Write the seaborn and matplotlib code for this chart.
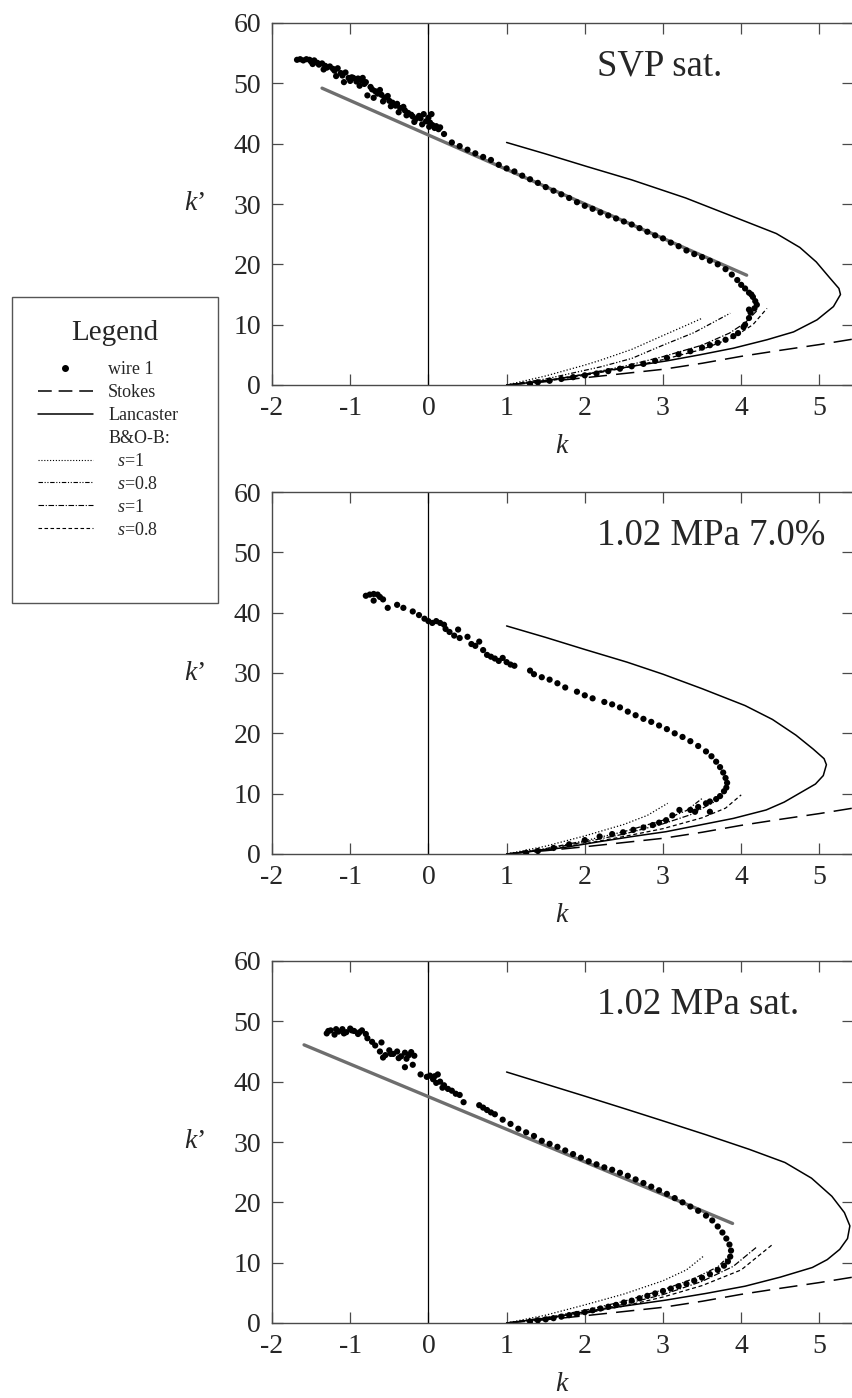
import numpy as np
import pandas as pd
import matplotlib
matplotlib.use("Agg")
import matplotlib.pyplot as plt
from matplotlib.lines import Line2D
from matplotlib.patches import Rectangle
import seaborn as sns

sns.set_style("ticks")
plt.rcParams['font.family'] = ['Liberation Serif', 'DejaVu Serif']
plt.rcParams['mathtext.fontset'] = 'custom'
plt.rcParams['mathtext.rm'] = 'Liberation Serif'
plt.rcParams['mathtext.it'] = 'Liberation Serif:italic'
plt.rcParams['axes.unicode_minus'] = False

# ---------------- data ----------------
panel_titles = ["SVP sat.", "1.02 MPa 7.0%", "1.02 MPa sat."]
x_ticks = [-2, -1, 0, 1, 2, 3, 4, 5]
y_ticks = [0, 10, 20, 30, 40, 50, 60]

# wire 1 measurements
wire_top_x = [-1.68,-1.64,-1.6,-1.56,-1.52,-1.5,-1.46,-1.42,-1.4,-1.36,-1.32,-1.3,-1.26,-1.22,-1.2,-1.16,-1.12,-1.1,-1.06,-1.02,-1.0,
              -0.96,-0.92,-0.9,-0.86,-0.82,-0.8,-0.78,-0.74,-0.72,-0.68,-0.65,-0.62,-0.6,-0.56,-0.52,-0.5,-0.46,-0.42,-0.4,-0.36,-0.32,
              -0.3,-0.26,-0.22,-0.2,-0.16,-0.12,-0.1,-0.06,-0.03,0.0,0.02,0.05,0.08,0.1,0.13,0.15,0.2,
              -1.48,-1.34,-1.18,-1.08,-0.98,-0.88,-0.84,-0.7,-0.58,-0.48,-0.38,-0.28,-0.18,-0.08,0.01,0.04,
              0.3,0.4,0.5,0.6,0.7,0.8,0.9,1.0,1.1,1.2,1.3,1.4,1.5,1.6,1.7,1.8,1.9,2.0,2.1,2.2,2.3,2.4,2.5,2.6,2.7,2.8,2.9,
              3.0,3.1,3.2,3.3,3.4,3.5,3.6,3.7,3.8,3.88,3.95,4.0,4.05,4.1,4.13,4.15,4.18,4.2,4.17,4.12,4.1,4.1,4.05,4.03,
              3.96,3.9,3.8,3.7,3.6,3.5,3.35,3.2,3.05,2.9,2.75,2.6,2.45,2.3,2.15,2.0,1.85,1.7,1.55,1.4,1.3]
wire_top_y = [53.9,54.0,53.8,54.0,53.9,53.6,53.8,53.4,53.1,53.3,52.9,52.6,52.8,52.4,52.1,52.5,51.7,51.3,51.8,50.9,50.4,
              50.9,50.3,50.8,50.5,49.9,50.2,48.0,49.4,49.0,48.7,48.3,48.9,48.1,47.6,47.9,47.1,46.8,46.3,46.6,45.9,46.1,
              45.5,45.1,44.8,44.5,44.1,44.6,44.2,44.9,43.7,44.3,43.5,43.1,42.6,42.9,42.4,42.7,41.6,
              53.2,52.3,51.2,50.2,51.0,49.6,50.9,47.6,47.0,46.2,45.2,44.7,43.6,43.2,42.8,44.9,
              40.2,39.6,39.0,38.4,37.8,37.3,36.5,35.9,35.4,34.7,34.1,33.5,32.8,32.2,31.6,31.0,30.3,29.7,29.2,28.6,28.1,27.6,27.1,26.6,26.0,25.4,24.8,
              24.3,23.6,23.0,22.3,21.7,21.2,20.6,20.0,19.2,18.3,17.4,16.6,16.0,15.3,15.0,14.6,13.9,13.3,12.7,12.0,12.5,11.1,10.0,9.6,
              8.6,8.1,7.5,7.0,6.6,6.2,5.6,5.1,4.5,4.0,3.5,3.1,2.7,2.3,1.9,1.6,1.3,1.0,0.7,0.45,0.2]

wire_mid_x = [-0.8,-0.75,-0.7,-0.65,-0.62,-0.58,-0.7,-0.52,-0.4,-0.32,-0.2,-0.12,-0.05,0.0,0.05,0.1,0.15,0.2,0.22,0.27,0.33,0.38,0.4,
              0.5,0.55,0.6,0.65,0.7,0.75,0.8,0.85,0.9,0.95,1.0,1.05,1.1,1.3,1.35,1.45,1.55,1.65,1.75,1.9,2.0,2.1,2.25,2.35,2.45,2.55,
              2.65,2.75,2.85,2.95,3.05,3.15,3.25,3.35,3.45,3.55,3.62,3.68,3.73,3.77,3.8,3.82,3.81,3.78,3.73,3.68,3.6,3.55,3.45,3.41,
              3.35,3.21,3.6,3.12,3.04,2.95,2.87,2.75,2.62,2.49,2.35,2.19,2.0,1.8,1.6,1.4,1.25]
wire_mid_y = [42.8,43.0,43.1,43.0,42.6,42.2,42.0,40.8,41.3,40.8,40.2,39.6,39.0,38.6,38.3,38.6,38.3,38.0,37.3,36.8,36.2,37.2,35.8,
              36.0,34.8,34.5,35.2,33.8,33.0,32.7,32.4,32.0,32.5,31.8,31.4,31.2,30.4,29.8,29.3,28.9,28.3,27.6,26.9,26.3,25.8,25.2,24.8,24.3,23.6,
              23.0,22.4,21.9,21.3,20.7,20.0,19.4,18.7,17.9,17.0,16.2,15.3,14.4,13.5,12.6,11.8,11.0,10.4,9.6,9.1,8.7,8.4,7.8,7.0,
              7.3,7.3,7.0,6.4,5.6,5.2,4.8,4.4,4.0,3.6,3.3,2.9,2.3,1.6,1.0,0.5,0.2]

wire_bot_x = [-1.3,-1.25,-1.2,-1.15,-1.1,-1.05,-1.0,-0.95,-0.9,-0.85,-0.8,-0.78,-0.72,-0.68,-0.6,-0.62,-0.55,-0.5,-0.45,-0.4,-0.35,
              -0.3,-0.28,-0.22,-0.18,-0.3,-0.2,-0.1,-0.02,0.02,0.06,0.1,0.12,0.15,0.2,0.25,0.3,0.35,0.4,0.45,0.65,0.7,0.75,0.8,0.85,
              -1.28,-1.18,-1.08,-0.98,-0.88,-0.58,-0.48,-0.38,-0.25,0.08,0.18,
              0.95,1.05,1.15,1.25,1.35,1.45,1.55,1.65,1.75,1.85,1.95,2.05,2.15,2.25,2.35,2.45,2.55,2.65,2.75,2.85,2.95,3.05,3.15,
              3.25,3.35,3.45,3.55,3.63,3.7,3.76,3.81,3.85,3.87,3.86,3.83,3.78,3.7,3.6,3.5,3.4,3.3,3.2,3.1,3.0,2.9,2.8,2.7,2.6,2.5,
              2.4,2.3,2.2,2.1,2.0,1.9,1.8,1.7,1.6,1.5,1.4,1.3]
wire_bot_y = [48.0,48.5,47.8,48.3,48.7,48.2,48.8,48.4,47.9,48.5,47.9,47.2,46.6,46.0,46.5,45.0,44.4,45.2,44.6,45.0,44.2,
              44.8,43.8,44.9,44.3,42.4,42.8,41.2,40.8,41.0,40.4,39.8,41.2,40.0,39.4,38.8,38.5,38.0,37.8,36.6,36.1,35.7,35.3,34.9,34.6,
              48.4,48.7,48.0,48.5,48.2,44.0,44.6,43.9,44.4,40.9,39.0,
              33.7,33.0,32.2,31.6,31.0,30.2,29.7,29.2,28.6,28.0,27.4,26.8,26.3,25.8,25.4,24.9,24.4,23.8,23.2,22.6,22.0,21.4,20.7,
              20.0,19.3,18.6,17.8,17.0,16.0,15.0,14.0,13.0,12.0,11.0,10.2,9.5,8.8,8.1,7.5,7.0,6.5,6.1,5.7,5.3,4.9,4.5,4.1,3.7,3.4,
              3.0,2.7,2.4,2.1,1.8,1.5,1.3,1.05,0.8,0.6,0.45,0.25]

# linear fit lines (grey)
fit_top_x = [-1.36, 4.07]
fit_top_y = [49.2, 18.2]
fit_bot_x = [-1.59, 3.89]
fit_bot_y = [46.1, 16.5]

# Stokes (same in all panels)
stokes_x = [1.0, 1.5, 2.0, 2.5, 3.0, 3.5, 4.0, 4.5, 5.0, 5.5]
stokes_y = [0.0, 0.55, 1.2, 1.9, 2.6, 3.6, 4.75, 5.75, 6.7, 7.75]

# Lancaster
lan_top_x = [1.0,1.5,2.03,2.6,3.29,3.9,4.45,4.75,4.96,5.13,5.25,5.27,5.18,4.97,4.67,4.33,3.9,3.47,3.05,2.62,2.2,1.7,1.3,1.0]
lan_top_y = [40.2,38.3,36.2,34.0,31.0,27.9,25.1,22.8,20.4,17.8,16.0,15.0,13.0,10.8,8.8,7.5,6.1,5.0,4.0,3.15,2.2,1.1,0.4,0.0]
lan_mid_x = [1.0,1.5,2.0,2.54,3.0,3.5,4.05,4.4,4.7,4.92,5.06,5.09,5.05,4.95,4.75,4.55,4.32,3.9,3.47,3.04,2.61,2.19,1.7,1.3,1.0]
lan_mid_y = [37.8,35.9,33.9,31.8,29.8,27.4,24.6,22.3,19.7,17.4,15.8,14.8,13.0,11.6,10.1,8.6,7.3,5.9,4.8,3.7,2.9,2.05,1.0,0.4,0.0]
lan_bot_x = [1.0,1.5,2.0,2.54,3.0,3.55,4.1,4.56,4.9,5.16,5.32,5.39,5.36,5.26,5.1,4.91,4.5,4.05,3.55,3.04,2.5,2.03,1.5,1.0]
lan_bot_y = [41.6,39.6,37.6,35.4,33.5,31.2,28.8,26.6,24.0,21.0,18.3,16.1,14.0,12.2,10.5,9.2,7.6,6.1,4.9,3.8,2.8,1.9,0.8,0.0]

# B&O-B curves: dotted (s=1), dash-dot-dot (s=0.8), dash-dot (s=1), dashed (s=0.8)
bob_top = {
    "dot":    ([1.0,1.5,2.0,2.2,2.6,3.0,3.3,3.5], [0.0,1.5,3.3,4.1,5.9,8.2,9.9,11.06]),
    "dadodo": ([1.0,1.5,2.2,2.6,3.0,3.4,3.86], [0.0,1.0,3.0,4.4,6.6,8.7,11.9]),
    "dado":   ([1.0,1.5,2.0,2.5,3.0,3.5,3.85,4.05,4.2], [0.0,0.7,1.8,3.1,4.7,6.6,8.6,10.3,12.3]),
    "dash":   ([1.0,1.5,2.0,2.5,3.0,3.5,3.9,4.15,4.33], [0.0,0.6,1.6,2.8,4.2,5.9,7.9,10.0,12.7]),
}
bob_mid = {
    "dot":    ([1.0,1.5,2.0,2.5,2.8,3.06], [0.0,1.3,3.0,4.9,6.4,8.4]),
    "dadodo": ([1.0,1.5,2.0,2.5,3.0,3.3,3.5], [0.0,0.9,2.2,3.7,5.6,7.2,9.2]),
    "dado":   ([1.0,1.5,2.0,2.5,3.0,3.35,3.65], [0.0,0.8,2.0,3.3,5.0,6.5,8.6]),
    "dash":   ([1.0,1.5,2.0,2.5,3.0,3.5,3.8,4.0], [0.0,0.7,1.7,2.9,4.2,6.0,7.6,9.8]),
}
bob_bot = {
    "dot":    ([1.0,1.5,2.0,2.5,3.0,3.3,3.53], [0.0,1.3,3.0,4.8,7.0,8.8,11.2]),
    "dadodo": ([1.0,1.5,2.0,2.5,3.0,3.4,3.7,3.85], [0.0,0.9,2.1,3.6,5.5,7.4,9.3,11.2]),
    "dado":   ([1.0,1.5,2.0,2.5,3.0,3.5,3.9,4.19], [0.0,0.75,1.8,3.1,4.7,6.9,9.4,12.5]),
    "dash":   ([1.0,1.5,2.0,2.5,3.0,3.5,4.0,4.39], [0.0,0.65,1.6,2.8,4.3,6.2,8.8,12.9]),
}

panels = [
    (wire_top_x, wire_top_y, (fit_top_x, fit_top_y), (lan_top_x, lan_top_y), bob_top),
    (wire_mid_x, wire_mid_y, None, (lan_mid_x, lan_mid_y), bob_mid),
    (wire_bot_x, wire_bot_y, (fit_bot_x, fit_bot_y), (lan_bot_x, lan_bot_y), bob_bot),
]

# ---------------- styles ----------------
styles = {
    "dot":    (0, (1, 1.6)),
    "dadodo": (0, (4, 1.5, 1, 1.5, 1, 1.5)),
    "dado":   (0, (5, 1.5, 1, 1.5)),
    "dash":   (0, (3.2, 2.2)),
}
stokes_ls = (0, (12, 6))
spine_col = "#4a4a4a"

W, H = 853, 1398
fig = plt.figure(figsize=(W / 100, H / 100), dpi=100)

ax_left, ax_right = 272 / W, 853 / W
tops = [23, 492, 961]
height_px = 362

for i, (wx, wy, fit, lan, bob) in enumerate(panels):
    top = tops[i]
    ax = fig.add_axes([ax_left, 1 - (top + height_px) / H, ax_right - ax_left, height_px / H])
    ax.axvline(0, color="black", lw=0.9, zorder=1)
    sns.lineplot(x=stokes_x, y=stokes_y, ax=ax, color="black", lw=1.1, linestyle=stokes_ls,
                 sort=False, estimator=None)
    sns.lineplot(x=lan[0], y=lan[1], ax=ax, color="black", lw=1.1, sort=False, estimator=None)
    for key in ["dot", "dadodo", "dado", "dash"]:
        bx, by = bob[key]
        sns.lineplot(x=bx, y=by, ax=ax, color="black", lw=0.9, linestyle=styles[key],
                     sort=False, estimator=None)
    if fit is not None:
        sns.lineplot(x=fit[0], y=fit[1], ax=ax, color="#6e6e6e", lw=2.4, sort=False,
                     estimator=None, zorder=2)
    sns.scatterplot(x=wx, y=wy, ax=ax, color="black", s=20, edgecolor="none", zorder=3)

    ax.set_xlim(-2, 5.43)
    ax.set_ylim(0, 60)
    ax.set_xticks(x_ticks)
    ax.set_yticks(y_ticks)
    ax.tick_params(direction="in", top=True, right=True, length=8, width=0.9,
                   color=spine_col, labelsize=20, pad=8)
    for sp in ax.spines.values():
        sp.set_color(spine_col)
        sp.set_linewidth(1.0)
    ax.set_xlabel("$k$", fontsize=20, labelpad=9)
    ax.set_ylabel("")
    ax.text(-0.133, 0.5, "$k$\u2019", transform=ax.transAxes, fontsize=20,
            ha="center", va="center")
    ax.text(0.559, 0.88, panel_titles[i], transform=ax.transAxes, fontsize=26.5,
            ha="left", va="center")

# ---------------- legend ----------------
handles = [
    Line2D([], [], ls="none", marker="o", color="black", markersize=4),
    Line2D([], [], color="black", lw=1.1, linestyle=(0, (9, 4.5))),
    Line2D([], [], color="black", lw=1.1),
    Line2D([], [], ls="none"),
    Line2D([], [], color="black", lw=0.8, linestyle=styles["dot"]),
    Line2D([], [], color="black", lw=0.8, linestyle=styles["dadodo"]),
    Line2D([], [], color="black", lw=0.8, linestyle=styles["dado"]),
    Line2D([], [], color="black", lw=0.8, linestyle=styles["dash"]),
]
labels = ["wire 1", "Stokes", "Lancaster", "B&O-B:",
          "  $s$=1", "  $s$=0.8", "  $s$=1", "  $s$=0.8"]
fig.text(115 / W, 1 - 333 / H, "Legend", fontsize=21, ha="center", va="center")
leg = fig.legend(handles, labels, loc="upper center",
                 bbox_to_anchor=(108 / W, 1 - 361 / H), frameon=False,
                 fontsize=13, handlelength=3.05, handletextpad=0.85,
                 labelspacing=0.33, borderpad=0.0, borderaxespad=0.0)
fig.patches.append(Rectangle((12 / W, 1 - 603 / H), (218 - 12) / W, (603 - 297) / H,
                             transform=fig.transFigure, fill=False,
                             edgecolor="#555555", lw=1.0))

fig.savefig("out.png", dpi=100)
